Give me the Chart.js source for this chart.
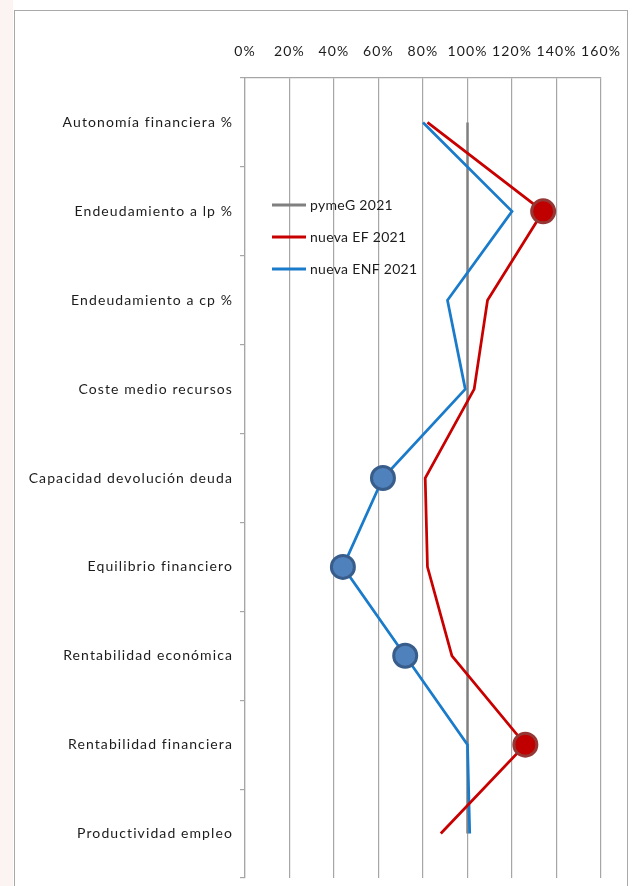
<!DOCTYPE html>
<html>
<head>
<meta charset="utf-8">
<script src="https://cdn.jsdelivr.net/npm/chart.js@4.4.1/dist/chart.umd.min.js"></script>
<style>
  html, body { margin:0; padding:0; background:#ffffff; }
  body { width:632px; height:886px; overflow:hidden; position:relative;
         background: linear-gradient(to right, #fbf4f3 0px, #fbf4f3 13px, #ffffff 13px); }
  #c { position:absolute; left:0; top:0; }
</style>
</head>
<body>
<canvas id="c" width="632" height="886"></canvas>
<script>
// ---- data ----
const categories = [
  "Autonomía financiera %",
  "Endeudamiento a lp %",
  "Endeudamiento a cp %",
  "Coste medio recursos",
  "Capacidad devolución deuda",
  "Equilibrio financiero",
  "Rentabilidad económica",
  "Rentabilidad financiera",
  "Productividad empleo"
];
const seriesNames = ["pymeG 2021", "nueva EF 2021", "nueva ENF 2021"];
const pymeG2021   = [100, 100, 100, 100, 100, 100, 100, 100, 100];
const nuevaEF2021 = [82, 134, 109, 103, 81, 82, 93, 126, 88];
const nuevaENF2021= [80, 120, 91, 99, 62, 44, 72, 100, 101];
const tickValues  = [0, 20, 40, 60, 80, 100, 120, 140, 160];

// ---- style ----
const FONT = "Lato, 'Open Sans', sans-serif";
const TEXT = "#1c1c1c";
const GRID = "#a6a6a6";
const efMarkers  = [0, 11.5, 0, 0, 0, 0, 0, 11.5, 0];
const enfMarkers = [0, 0, 0, 0, 11.5, 11.5, 11.5, 0, 0];

const framePlugin = {
  id: 'frame',
  beforeDraw(chart) {
    const ctx = chart.ctx;
    ctx.save();
    ctx.strokeStyle = "#a9a9a9";
    ctx.lineWidth = 1;
    ctx.strokeRect(14.5, 10.5, 613, 900);
    ctx.restore();
    ctx.letterSpacing = "1.1px";
  }
};

const legendPlugin = {
  id: 'innerLegend',
  afterDraw(chart) {
    const ctx = chart.ctx;
    ctx.save();
    ctx.letterSpacing = "0.3px";
    const rows = [205, 237, 269];
    chart.data.datasets.forEach((ds, i) => {
      const y = rows[i];
      ctx.strokeStyle = ds.borderColor;
      ctx.lineWidth = 3;
      ctx.beginPath();
      ctx.moveTo(272, y);
      ctx.lineTo(306, y);
      ctx.stroke();
      ctx.fillStyle = TEXT;
      ctx.font = "14px " + FONT;
      ctx.textBaseline = "middle";
      ctx.textAlign = "left";
      ctx.fillText(ds.label, 310, y);
    });
    ctx.restore();
  }
};

new Chart(document.getElementById('c'), {
  type: 'line',
  data: {
    labels: categories,
    datasets: [
      { label: seriesNames[0], data: pymeG2021, borderColor: "#808080", borderWidth: 2.5,
        pointRadius: 0, order: 3 },
      { label: seriesNames[1], data: nuevaEF2021, borderColor: "#C80000", borderWidth: 2.75,
        pointRadius: efMarkers, pointBackgroundColor: "#C00000", pointBorderColor: "#953735",
        pointBorderWidth: 3, order: 1 },
      { label: seriesNames[2], data: nuevaENF2021, borderColor: "#1a7bcb", borderWidth: 2.75,
        pointRadius: enfMarkers, pointBackgroundColor: "#4F81BD", pointBorderColor: "#385D8A",
        pointBorderWidth: 3, order: 2 }
    ]
  },
  options: {
    indexAxis: 'y',
    responsive: false,
    animation: false,
    layout: { padding: { left: 0, top: 0, right: 31, bottom: 8 } },
    scales: {
      x: {
        type: 'linear',
        position: 'top',
        min: tickValues[0],
        max: tickValues[tickValues.length - 1],
        afterBuildTicks(scale) { scale.ticks = tickValues.map(v => ({ value: v })); },
        ticks: { padding: 18, color: TEXT, font: { family: FONT, size: 14 },
                 callback: v => v + '%' },
        grid: { color: GRID, lineWidth: 1.2, drawTicks: false },
        border: { color: GRID, width: 1.2 },
        afterFit(scale) { scale.height = 78; scale.paddingLeft = 0; scale.paddingRight = 0; }
      },
      y: {
        type: 'category',
        offset: true,
        grid: { offset: true, drawOnChartArea: false, drawTicks: true, tickLength: 5,
                color: GRID, lineWidth: 1.2 },
        border: { color: GRID, width: 1.2 },
        ticks: { padding: 7, color: TEXT, font: { family: FONT, size: 14 } },
        afterFit(scale) { scale.width = 245; scale.paddingTop = 0; scale.paddingBottom = 0; }
      }
    },
    plugins: { legend: { display: false }, tooltip: { enabled: false } }
  },
  plugins: [framePlugin, legendPlugin]
});
</script>
</body>
</html>
